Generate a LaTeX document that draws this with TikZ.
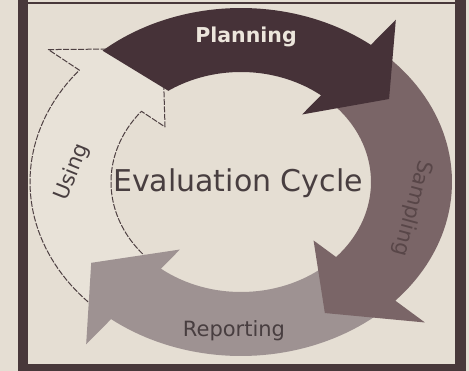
\documentclass[tikz,border=0pt]{standalone}
\usepackage{fontspec}
\setmainfont{DejaVu Sans}
\definecolor{paper}{RGB}{229,222,211}
\definecolor{framec}{RGB}{72,56,58}
\definecolor{planc}{RGB}{70,50,56}
\definecolor{sampc}{RGB}{122,101,103}
\definecolor{repoc}{RGB}{158,146,146}
\definecolor{usefill}{RGB}{232,226,216}
\definecolor{useline}{RGB}{78,64,66}
\definecolor{txtc}{RGB}{72,62,64}
\definecolor{samptxt}{RGB}{88,70,72}
\definecolor{plantxt}{RGB}{236,230,220}
% #1 tail outer angle, #2 tail inner angle, #3 head base angle, #4 tip angle, #5 style
\newcommand\cycarrow[5]{%
  \path[#5] plot[domain=#1:#3,samples=45] ({241+211*cos(\x)},{182+174*sin(\x)})
   -- ({241+251.5*cos(#3)},{182+206*sin(#3)})
   -- ({241+178.6*cos(#4)},{182+148.4*sin(#4)})
   -- ({241+99.2*cos(#3)},{182+85.7*sin(#3)})
   -- plot[domain=#3:#2,samples=45] ({241+130*cos(\x)},{182+110*sin(\x)}) -- cycle;}
\tikzset{
  framebar/.style={fill=framec},
  usingarrow/.style={fill=usefill,draw=useline,line width=1pt,line join=round,dash pattern=on 6pt off 1.5pt},
  reparrow/.style={fill=repoc},
  samparrow/.style={fill=sampc},
  planarrow/.style={fill=planc},
  label/.style={inner sep=0pt,font=\fontsize{21}{25}\selectfont,text=txtc}
}
\begin{document}
\begin{tikzpicture}[x=1pt,y=-1pt]
\useasboundingbox (0,0) rectangle (469,371);
\fill[paper] (0,0) rectangle (469,371);
% frame
\fill[framebar] (18,0) rectangle (28,371);
\fill[framebar] (455,0) rectangle (466,371);
\fill[framebar] (18,364) rectangle (466,371);
\fill[framebar] (28,2) rectangle (455,4.5);
% arrows, bottom to top
\cycarrow{132}{132}{220}{244}{usingarrow}
\cycarrow{47}{47}{128}{147}{reparrow}
\cycarrow{312}{312}{403}{422}{samparrow}
\cycarrow{229}{236}{308}{326}{planarrow}
% labels
\node[label,font=\bfseries\fontsize{20.5}{24}\selectfont,text=plantxt,anchor=base] (plan) at (246,43) {Planning};
\node[label,rotate=-105,text=samptxt] (samp) at (412,208) {Sampling};
\node[label,anchor=base] (repo) at (234,337) {Reporting};
\node[label,rotate=68] (use) at (72,172) {Using};
\node[label,font=\fontsize{30}{36}\selectfont,anchor=base] (eval) at (238,192) {Evaluation Cycle};
\end{tikzpicture}
\end{document}
